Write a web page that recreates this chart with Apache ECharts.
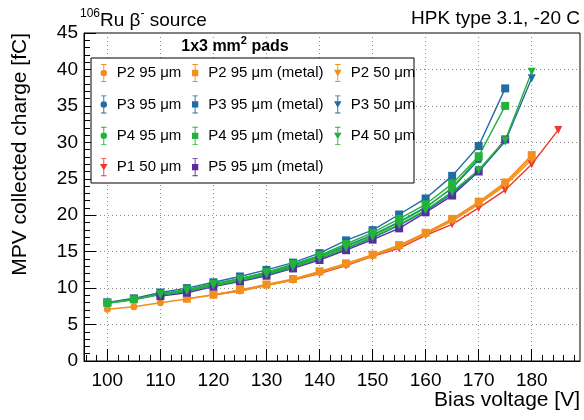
<!DOCTYPE html>
<html>
<head>
<meta charset="utf-8">
<script src="https://cdn.jsdelivr.net/npm/echarts@6/dist/echarts.min.js"></script>
<style>html,body{margin:0;padding:0;background:#fff}#c{width:584px;height:420px}</style>
</head>
<body>
<div id="c"></div>
<script>
// ---- data (bias voltage [V], MPV collected charge [fC]) ----
const v_p2_95 = [100,105,110,115,120,125,130,135,140,145,150,155,160,165,170,175,180];
const q_p2_95 = [7.1,7.45,8.0,8.5,9.05,9.7,10.45,11.2,12.2,13.2,14.5,15.8,17.5,19.4,21.7,24.3,28.0];
const v_p2_95m = [115,120,125,130,135,140,145,150,155,160,165,170,175,180];
const q_p2_95m = [8.55,9.1,9.75,10.5,11.25,12.3,13.4,14.6,15.9,17.6,19.5,21.85,24.5,28.25];
const v_p2_50 = [120,125,130,135,140,145,150,155,160,165,170,175,180];
const q_p2_50 = [9.0,9.6,10.35,11.1,12.1,13.2,14.4,15.7,17.4,19.2,21.5,24.1,27.6];
const v_p3_95 = [100,105,110,115,120,125,130,135,140,145,150,155,160,165,170];
const q_p3_95 = [7.95,8.45,9.15,9.75,10.55,11.3,12.1,13.1,14.4,15.8,17.3,19.1,21.1,23.7,27.6];
const v_p3_95m = [100,105,110,115,120,125,130,135,140,145,150,155,160,165,170,175];
const q_p3_95m = [8.05,8.6,9.4,10.0,10.8,11.6,12.5,13.5,14.8,16.55,17.95,20.1,22.3,25.4,29.5,37.4];
const v_p3_50 = [110,115,120,125,130,135,140,145,150,155,160,165,170,175,180];
const q_p3_50 = [9.0,9.55,10.3,11.0,11.8,12.8,14.0,15.4,16.9,18.6,20.6,23.0,26.0,30.1,38.8];
const v_p4_95 = [100,105,110,115,120,125,130,135,140,145,150,155,160,165,170];
const q_p4_95 = [7.9,8.4,9.1,9.7,10.5,11.2,12.0,13.0,14.3,15.7,17.2,19.0,21.0,23.8,27.9];
const v_p4_95m = [100,105,110,115,120,125,130,135,140,145,150,155,160,165,170,175];
const q_p4_95m = [8.0,8.45,9.2,9.8,10.6,11.3,12.2,13.3,14.5,16.05,17.6,19.5,21.5,24.3,28.1,35.0];
const v_p4_50 = [110,115,120,125,130,135,140,145,150,155,160,165,170,175,180];
const q_p4_50 = [9.05,9.6,10.35,11.05,11.9,12.9,14.1,15.5,17.0,18.7,20.7,23.2,26.2,30.3,39.7];
const v_p1_50 = [120,125,130,135,140,145,150,155,160,165,170,175,180,185];
const q_p1_50 = [9.1,9.6,10.4,11.1,12.0,13.1,14.35,15.45,17.25,18.75,21.0,23.45,27.0,31.7];
const v_p5_95m = [110,115,120,125,130,135,140,145,150,155,160,165,170,175];
const q_p5_95m = [8.9,9.37,10.2,10.9,11.7,12.7,13.85,15.2,16.65,18.2,20.4,22.7,26.0,30.4];

const xMajorTicks = [100,110,120,130,140,150,160,170,180];
const xMinorTicks = [96,98,102,104,106,108,112,114,116,118,122,124,126,128,132,134,136,138,142,144,146,148,152,154,156,158,162,164,166,168,172,174,176,178,182,184,186,188];

const ORANGE = '#F0901E', BLUE = '#236BA3', GREEN = '#22B33A', RED = '#EE3A2C', PURPLE = '#5B2C9F';
const BAR = 'M2,0H8V1H2Z M4.5,0H5.5V20H4.5Z M2,19H8V20H2Z ';
const ICON = {
  circle: 'path://' + BAR + 'M8.6,10A3.6,3.6 0 1 1 1.4,10A3.6,3.6 0 1 1 8.6,10Z',
  rect: 'path://' + BAR + 'M1.5,6.5H8.5V13.5H1.5Z',
  tri: 'path://' + BAR + 'M0.8,6.5H9.2L5,13.8Z'
};

const defs = [
  {name:'P2 95 μm', v:v_p2_95, q:q_p2_95, c:ORANGE, s:'circle'},
  {name:'P3 95 μm', v:v_p3_95, q:q_p3_95, c:BLUE, s:'circle'},
  {name:'P4 95 μm', v:v_p4_95, q:q_p4_95, c:GREEN, s:'circle'},
  {name:'P1 50 μm', v:v_p1_50, q:q_p1_50, c:RED, s:'tri'},
  {name:'P2 95 μm (metal)', v:v_p2_95m, q:q_p2_95m, c:ORANGE, s:'rect'},
  {name:'P3 95 μm (metal)', v:v_p3_95m, q:q_p3_95m, c:BLUE, s:'rect'},
  {name:'P4 95 μm (metal)', v:v_p4_95m, q:q_p4_95m, c:GREEN, s:'rect'},
  {name:'P5 95 μm (metal)', v:v_p5_95m, q:q_p5_95m, c:PURPLE, s:'rect'},
  {name:'P2 50 μm', v:v_p2_50, q:q_p2_50, c:ORANGE, s:'tri'},
  {name:'P3 50 μm', v:v_p3_50, q:q_p3_50, c:BLUE, s:'tri'},
  {name:'P4 50 μm', v:v_p4_50, q:q_p4_50, c:GREEN, s:'tri'}
];

const FONT = 'Liberation Sans, Arial, Helvetica, sans-serif';

const series = defs.map(d => ({
  name: d.name,
  type: 'line',
  data: d.v.map((x, i) => [x, d.q[i]]),
  symbol: d.s === 'tri' ? 'triangle' : d.s,
  symbolRotate: d.s === 'tri' ? 180 : 0,
  symbolSize: d.s === 'rect' ? 8 : (d.s === 'tri' ? 8 : 7),
  showSymbol: true,
  color: d.c,
  lineStyle: {width: 1.4, color: d.c},
  itemStyle: {color: d.c},
  emphasis: {disabled: true},
  animation: false,
  z: 2
}));

function legendCol(names, left) {
  return {
    orient: 'vertical', left: left, top: 64, padding: 0,
    itemWidth: 16, itemHeight: 18, itemGap: 13.4,
    selectedMode: false, z: 10,
    textStyle: {fontFamily: FONT, fontSize: 15, color: '#000'},
    data: names.map(n => {
      const d = defs.find(e => e.name === n);
      return {name: n, icon: ICON[d.s], itemStyle: {color: d.c}};
    })
  };
}

const chart = echarts.init(document.getElementById('c'), null, {renderer: 'canvas'});
chart.setOption({
  animation: false,
  backgroundColor: '#fff',
  grid: {left: 84, top: 33, right: 4, bottom: 59, show: true, borderColor: '#000', borderWidth: 1, backgroundColor: 'transparent'},
  xAxis: [{
    type: 'value', min: 95.6, max: 189.1, position: 'bottom',
    axisLine: {show: true, onZero: false, lineStyle: {color: '#000', width: 1}},
    axisTick: {show: true, inside: true, length: 12, customValues: xMajorTicks, lineStyle: {color: '#000'}},
    axisLabel: {show: true, customValues: xMajorTicks, margin: 10, fontFamily: FONT, fontSize: 19, color: '#000'},
    splitLine: {show: true, lineStyle: {color: '#8a8a8a', type: [1, 3], width: 1}}
  }, {
    type: 'value', min: 95.6, max: 189.1, position: 'bottom', gridIndex: 0,
    axisLine: {show: false},
    axisTick: {show: true, inside: true, length: 6, customValues: xMinorTicks, lineStyle: {color: '#000'}},
    axisLabel: {show: false},
    splitLine: {show: false}
  }],
  yAxis: {
    type: 'value', min: 0, max: 45, interval: 5,
    axisLine: {show: true, onZero: false, lineStyle: {color: '#000', width: 1}},
    axisTick: {show: true, inside: true, length: 12, lineStyle: {color: '#000'}},
    minorTick: {show: true, splitNumber: 5, length: 6, lineStyle: {color: '#000'}},
    axisLabel: {margin: 6, fontFamily: FONT, fontSize: 19, color: '#000'},
    splitLine: {show: true, lineStyle: {color: '#8a8a8a', type: [1, 3], width: 1}}
  },
  legend: [
    legendCol(['P2 95 μm','P3 95 μm','P4 95 μm','P1 50 μm'], 100),
    legendCol(['P2 95 μm (metal)','P3 95 μm (metal)','P4 95 μm (metal)','P5 95 μm (metal)'], 192),
    legendCol(['P2 50 μm','P3 50 μm','P4 50 μm'], 334)
  ],
  graphic: [
    {type: 'rect', z: 5, shape: {x: 91, y: 58, width: 323, height: 125}, style: {fill: '#fff', stroke: '#000', lineWidth: 1}},
    {type: 'text', z: 11, x: 235, y: 45, style: {
      text: '{b|1x3 mm}{s|2}{b| pads}', align: 'center', verticalAlign: 'middle',
      rich: {b: {fontFamily: FONT, fontSize: 16, fontWeight: 'bold', lineHeight: 20, verticalAlign: 'bottom'},
             s: {fontFamily: FONT, fontSize: 11, fontWeight: 'bold', lineHeight: 20, verticalAlign: 'top', padding: [0,0,8,0]}}
    }},
    {type: 'text', z: 11, x: 80, y: 8, style: {
      text: '{s|106}{m|Ru β}{s|-}{m| source}',
      rich: {m: {fontFamily: FONT, fontSize: 19, lineHeight: 22, verticalAlign: 'bottom', fill: '#000'},
             s: {fontFamily: FONT, fontSize: 12, lineHeight: 22, verticalAlign: 'top', padding: [0,0,10,0], fill: '#000'}}
    }},
    {type: 'text', z: 11, x: 580, y: 8, style: {
      text: 'HPK type 3.1, -20 C', align: 'right', fontFamily: FONT, fontSize: 19, lineHeight: 22, fill: '#000'
    }},
    {type: 'text', z: 11, x: 580, y: 400, style: {
      text: 'Bias voltage [V]', align: 'right', verticalAlign: 'middle', fontFamily: FONT, fontSize: 21, fill: '#000'
    }},
    {type: 'text', z: 11, x: 20, y: 33, rotation: Math.PI / 2, style: {
      text: 'MPV collected charge [fC]', align: 'right', verticalAlign: 'middle', fontFamily: FONT, fontSize: 21, fill: '#000'
    }}
  ],
  series: series
});
</script>
</body>
</html>
